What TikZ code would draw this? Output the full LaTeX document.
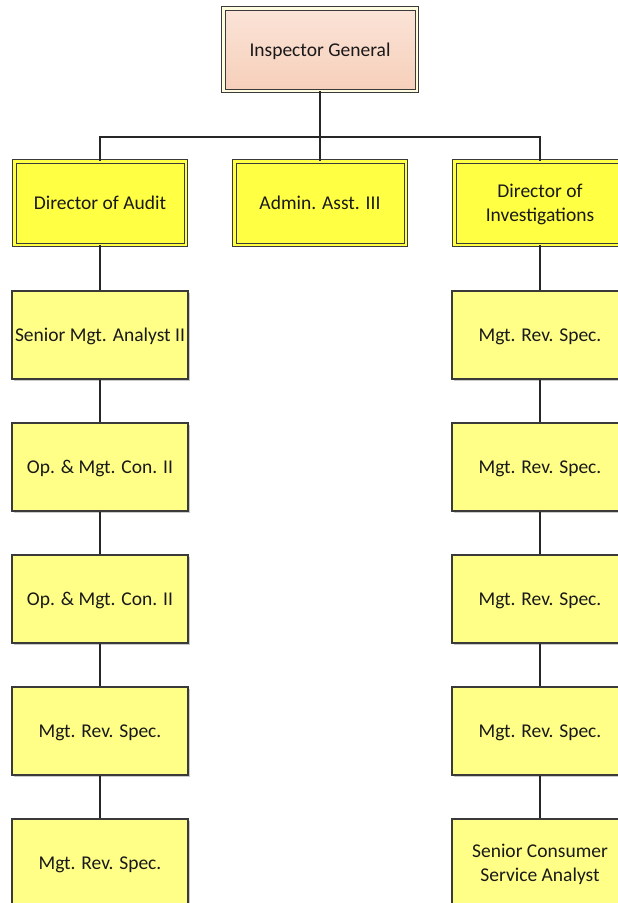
\documentclass[tikz,border=0pt]{standalone}
\usepackage{fontspec}
\setmainfont{Carlito}
\usetikzlibrary{shadows}
\definecolor{plainfill}{HTML}{FFFF88}
\definecolor{dirfill}{HTML}{FFFF44}
\definecolor{igtop}{HTML}{FBE4D8}
\definecolor{igbot}{HTML}{F6CFBA}
\definecolor{cream}{HTML}{FFFBE0}
\definecolor{edge}{HTML}{3A3A3A}
\definecolor{wire}{HTML}{262626}
\tikzset{
  x=1pt, y=-1pt,
  boxbase/.style={rectangle, align=center, text=black!90,
    font=\fontsize{19.5}{24}\selectfont, inner sep=0pt, text depth=0pt,
    minimum width=176pt, minimum height=88pt,
    drop shadow={shadow xshift=2pt, shadow yshift=-2pt, fill=black!35, opacity=0.6}},
  plainbox/.style={boxbase, fill=plainfill, draw=edge, line width=1.2pt},
  dirbox/.style={boxbase, minimum width=171.5pt, minimum height=83.5pt,
    fill=dirfill, draw=edge, line width=1pt,
    double=dirfill, double distance=2.5pt},
  igbox/.style={boxbase, minimum width=193.5pt, minimum height=82.5pt,
    top color=igtop, bottom color=igbot, draw=edge, line width=1pt,
    double=cream, double distance=2.5pt},
  wireline/.style={draw=wire, line width=2pt}
}
\begin{document}
\begin{tikzpicture}
\useasboundingbox (0,0) rectangle (618,903);
\begin{scope}
\clip (0,0) rectangle (618,903);
\node[igbox] (ig) at (320,49.5) {Inspector General};
\node[dirbox] (da) at (100,203) {Director of Audit};
\node[dirbox] (aa) at (320,203) {Admin. Asst. III};
\node[dirbox] (di) at (540,203) {Director of\\Investigations};
\node[plainbox] (a1) at (100,335) {Senior Mgt. Analyst II};
\node[plainbox] (a2) at (100,467) {Op. \& Mgt. Con. II};
\node[plainbox] (a3) at (100,599) {Op. \& Mgt. Con. II};
\node[plainbox] (a4) at (100,731) {Mgt. Rev. Spec.};
\node[plainbox] (a5) at (100,863) {Mgt. Rev. Spec.};
\node[plainbox] (i1) at (540,335) {Mgt. Rev. Spec.};
\node[plainbox] (i2) at (540,467) {Mgt. Rev. Spec.};
\node[plainbox] (i3) at (540,599) {Mgt. Rev. Spec.};
\node[plainbox] (i4) at (540,731) {Mgt. Rev. Spec.};
\node[plainbox] (i5) at (540,863) {Senior Consumer\\Service Analyst};
\coordinate (bus) at (320,137);
\path[wireline] (ig.south) -- (bus);
\path[wireline] (da.north) |- (bus) -| (di.north);
\path[wireline] (aa.north) -- (bus);
\path[wireline] (da.south) -- (a1.north);
\path[wireline] (a1.south) -- (a2.north);
\path[wireline] (a2.south) -- (a3.north);
\path[wireline] (a3.south) -- (a4.north);
\path[wireline] (a4.south) -- (a5.north);
\path[wireline] (di.south) -- (i1.north);
\path[wireline] (i1.south) -- (i2.north);
\path[wireline] (i2.south) -- (i3.north);
\path[wireline] (i3.south) -- (i4.north);
\path[wireline] (i4.south) -- (i5.north);
\end{scope}
\end{tikzpicture}
\end{document}
